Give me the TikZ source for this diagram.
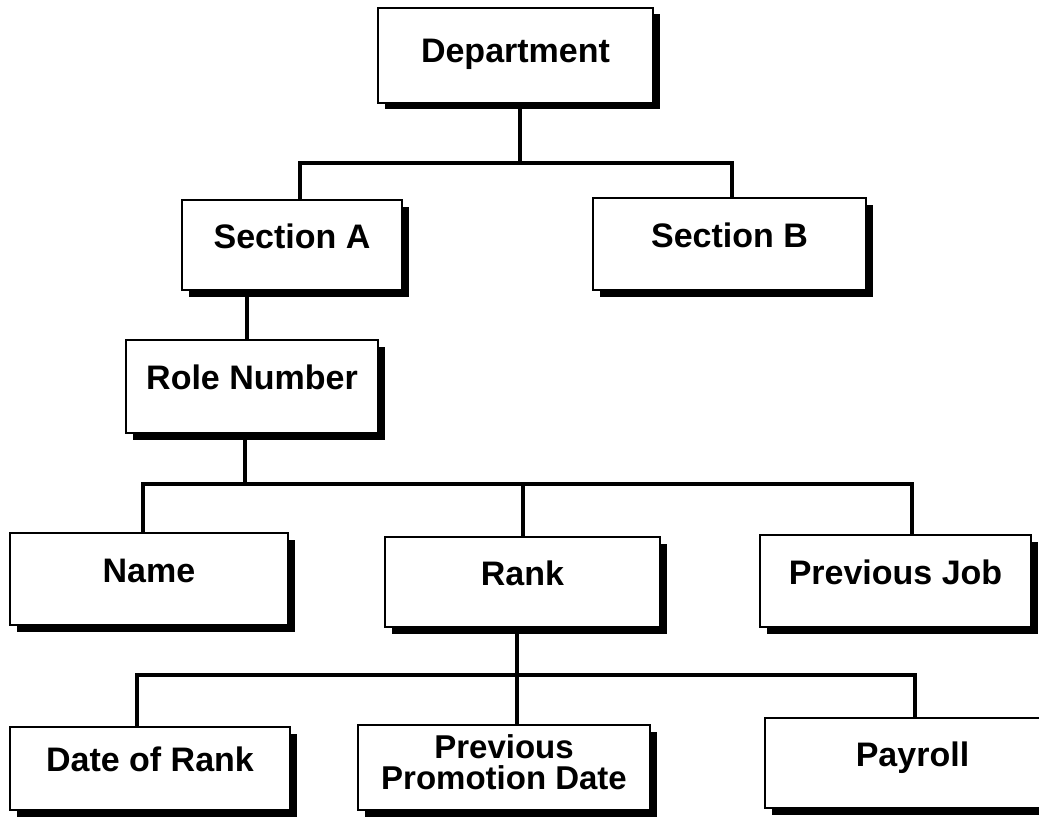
\documentclass[tikz,border=0pt]{standalone}
\usepackage{fontspec}
\setmainfont{Liberation Sans}
\usetikzlibrary{shadows}
\begin{document}
\begin{tikzpicture}[x=1pt,y=-1pt,
  box/.style={draw=black, line width=2.5pt, fill=white, rectangle, inner sep=0pt,
    font=\fontsize{34}{36}\selectfont\bfseries,
    general shadow={fill=black, shadow xshift=6.5pt, shadow yshift=-6.5pt}},
  one/.style={text height=24pt, text depth=18pt},
  conn/.style={line width=3.5pt, line join=miter}]
\clip (0,0) rectangle (1039,824);
\fill[white] (0,0) rectangle (1039,824);
% nodes
\node[box, text height=24pt, text depth=9.5pt, minimum width=275pt, minimum height=95pt] (dept) at (515.5,55.5) {Department};
\node[box, one, minimum width=220pt, minimum height=90pt] (secA) at (292,245) {Section A};
\node[box, one, minimum width=273pt, minimum height=92pt] (secB) at (729.5,244) {Section B};
\node[box, one, minimum width=252pt, minimum height=93pt] (role) at (252,386.5) {Role Number};
\node[box, one, minimum width=278pt, minimum height=92pt] (name) at (149,579) {Name};
\node[box, one, minimum width=275pt, minimum height=90pt] (rank) at (522.5,582) {Rank};
\node[box, one, minimum width=271pt, minimum height=92pt] (pjob) at (895.5,581) {Previous Job};
\node[box, one, minimum width=280pt, minimum height=83pt] (dor) at (150,768.5) {Date of Rank};
\node[box, minimum width=292pt, minimum height=85pt, align=center, text depth=10pt,
      font=\fontsize{33}{31}\selectfont\bfseries] (ppd) at (504,767.5) {Previous\\Promotion Date};
\node[box, one, minimum width=295pt, minimum height=90pt] (pay) at (912.5,763) {Payroll};
% connectors
\coordinate (b1) at (520,163);
\draw[conn] ([xshift=4.5pt]dept.south) -- (b1);
\draw[conn] ([xshift=8pt]secA.north) |- (b1) -| ([xshift=2.5pt]secB.north);
\draw[conn] ([xshift=-45pt]secA.south) -- ([xshift=-5pt]role.north);
\coordinate (b2) at (245,484);
\draw[conn] ([xshift=-7pt]role.south) -- (b2);
\draw[conn] ([xshift=-6pt]name.north) |- (b2) -| ([xshift=16.5pt]pjob.north);
\draw[conn] (b2) -| ([xshift=0.5pt]rank.north);
\coordinate (b3) at (517,675);
\draw[conn] ([xshift=-5.5pt]rank.south) -- (b3);
\draw[conn] ([xshift=-13pt]dor.north) |- (b3) -| ([xshift=2.5pt]pay.north);
\draw[conn] (b3) -- ([xshift=13pt]ppd.north);
\end{tikzpicture}
\end{document}
